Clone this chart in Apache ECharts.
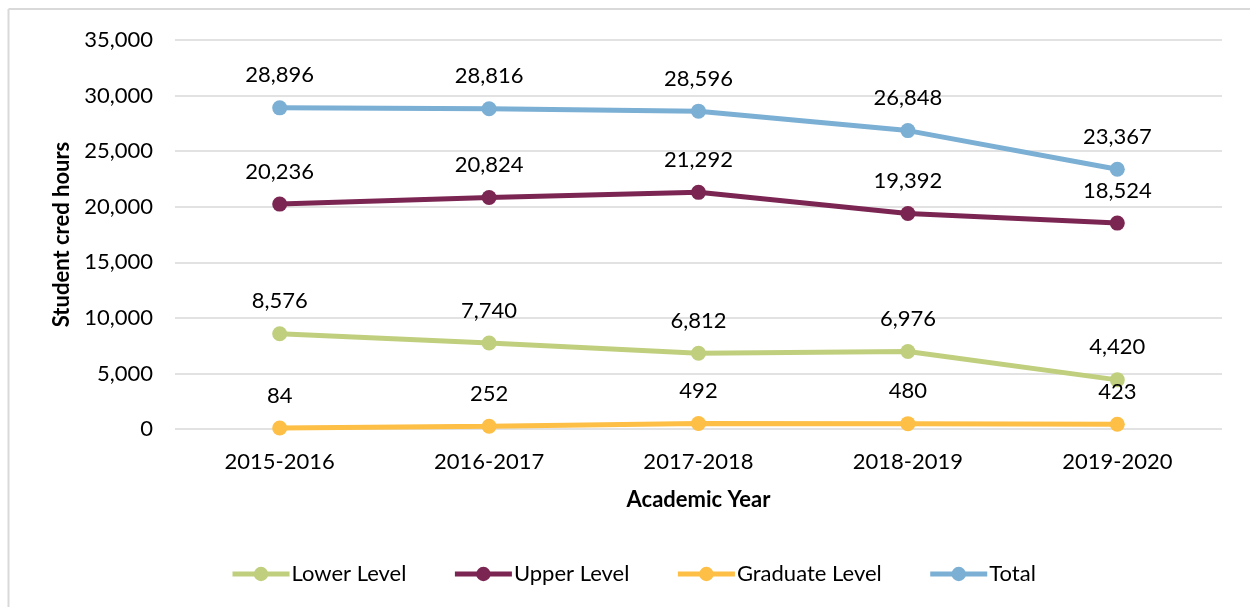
<!DOCTYPE html>
<html>
<head>
<meta charset="utf-8">
<script src="https://cdn.jsdelivr.net/npm/echarts@6/dist/echarts.min.js"></script>
<style>
html, body { margin: 0; padding: 0; background: #fff; }
#chart { width: 1250px; height: 607px; }
</style>
</head>
<body>
<div id="chart"></div>
<script>
var years = ['2015-2016', '2016-2017', '2017-2018', '2018-2019', '2019-2020'];
var lowerLevel = [8576, 7740, 6812, 6976, 4420];
var upperLevel = [20236, 20824, 21292, 19392, 18524];
var graduateLevel = [84, 252, 492, 480, 423];
var total = [28896, 28816, 28596, 26848, 23367];

var font = 'Lato, "Open Sans", sans-serif';

function fmt(v) {
	return v.toString().replace(/\B(?=(\d{3})+(?!\d))/g, ',');
}

function lineSeries(name, data, color) {
	return {
		name: name,
		type: 'line',
		data: data,
		symbol: 'circle',
		symbolSize: 15,
		lineStyle: { width: 5, color: color },
		itemStyle: { color: color },
		label: {
			show: true,
			position: 'top',
			distance: 14,
			color: '#000',
			fontSize: 22,
			fontFamily: font,
			formatter: function(p) { return fmt(p.value); }
		}
	};
}

var chart = echarts.init(document.getElementById('chart'));
var option = {
	animation: false,
	backgroundColor: '#fff',
	textStyle: { fontFamily: font },
	grid: { left: 175, right: 28, top: 40, bottom: 178 },
	graphic: [
		{ type: 'line', shape: { x1: 8.5, y1: 9, x2: 1250, y2: 9 }, style: { stroke: '#d9d9d9', lineWidth: 2 } },
		{ type: 'line', shape: { x1: 8.5, y1: 9, x2: 8.5, y2: 607 }, style: { stroke: '#d9d9d9', lineWidth: 2 } }
	],
	legend: {
		top: 558,
		left: 225,
		itemWidth: 57,
		itemHeight: 18,
		itemGap: 46,
		lineStyle: { width: 5 },
		textStyle: { fontSize: 22, color: '#000', fontFamily: font, padding: [0, 0, 0, -3] },
		data: ['Lower Level', 'Upper Level', 'Graduate Level', 'Total']
	},
	xAxis: {
		type: 'category',
		data: years,
		name: 'Academic Year',
		nameLocation: 'middle',
		nameGap: 60,
		nameTextStyle: { fontSize: 22, fontWeight: 'bold', color: '#000', fontFamily: font },
		axisLine: { show: false },
		axisTick: { show: false },
		axisLabel: { fontSize: 22, color: '#000', margin: 22, fontFamily: font }
	},
	yAxis: {
		type: 'value',
		min: 0,
		max: 35000,
		interval: 5000,
		name: 'Student cred hours',
		nameLocation: 'middle',
		nameGap: 102,
		nameTextStyle: { fontSize: 22, fontWeight: 'bold', color: '#000', fontFamily: font },
		axisLine: { show: false },
		axisTick: { show: false },
		axisLabel: { fontSize: 22, color: '#000', margin: 22, fontFamily: font, formatter: fmt },
		splitLine: { lineStyle: { color: '#d9d9d9', width: 1.5 } }
	},
	series: [
		lineSeries('Lower Level', lowerLevel, '#c0cf7e'),
		lineSeries('Upper Level', upperLevel, '#7b2552'),
		lineSeries('Graduate Level', graduateLevel, '#fdbf45'),
		lineSeries('Total', total, '#7bafd4')
	]
};
chart.setOption(option);
</script>
</body>
</html>
